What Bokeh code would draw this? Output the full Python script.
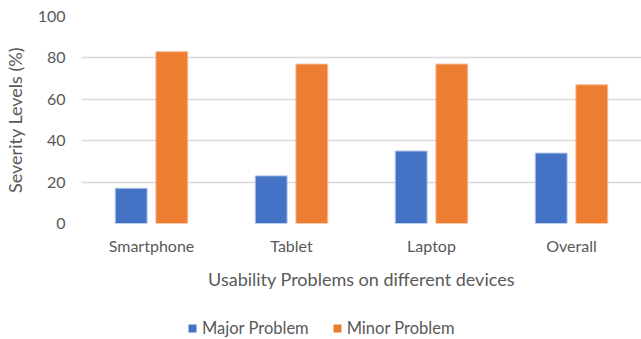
from bokeh.plotting import figure
from bokeh.layouts import column
from bokeh.models import ColumnDataSource, FactorRange, Range1d, Legend, LegendItem
from bokeh.transform import dodge
from bokeh.embed import file_html
from bokeh.resources import INLINE

categories = ["Smartphone", "Tablet", "Laptop", "Overall"]
major = [17, 23, 35, 34]
minor = [83, 77, 77, 67]
series_names = ["Major Problem", "Minor Problem"]
series_colors = ["#4472C4", "#ED7D31"]
y_ticks = [0, 20, 40, 60, 80, 100]

FONT = "Lato"
GRAY = "#595959"

src = ColumnDataSource(dict(cat=categories, major=major, minor=minor))

p = figure(width=641, height=300, x_range=FactorRange(*categories), y_range=Range1d(0, 100),
           output_backend="svg", toolbar_location=None,
           min_border_left=78, min_border_right=0, min_border_top=16, min_border_bottom=77)
p.outline_line_color = None
p.background_fill_color = "white"
p.border_fill_color = "white"

p.vbar(x=dodge("cat", -0.145, range=p.x_range), top="major", width=0.227, source=src,
       fill_color=series_colors[0], line_color="#a9bfe6", line_width=1)
p.vbar(x=dodge("cat", 0.145, range=p.x_range), top="minor", width=0.227, source=src,
       fill_color=series_colors[1], line_color="#f6b88f", line_width=1)

p.xgrid.grid_line_color = None
p.ygrid.grid_line_color = "#d9d9d9"
p.ygrid.grid_line_width = 1.5
p.yaxis.ticker = y_ticks

for ax in (p.xaxis[0], p.yaxis[0]):
    ax.axis_line_color = None
    ax.major_tick_line_color = None
    ax.minor_tick_line_color = None
    ax.major_tick_out = 0
    ax.major_tick_in = 0
    ax.major_label_text_font = FONT
    ax.major_label_text_font_size = "16px"
    ax.major_label_text_color = GRAY
    ax.axis_label_text_font = FONT
    ax.axis_label_text_font_size = "18px"
    ax.axis_label_text_color = GRAY
    ax.axis_label_text_font_style = "normal"

p.yaxis.major_label_standoff = 16
p.xaxis.major_label_standoff = 12
p.yaxis.axis_label = "Severity Levels (%)"
p.yaxis.axis_label_standoff = 9
p.xaxis.axis_label = "Usability Problems on different devices"
p.xaxis.axis_label_standoff = 10

# legend strip below the chart (its zero-width bars lie outside its visible y range)
leg = figure(width=641, height=39, x_range=FactorRange(*categories), y_range=Range1d(-2000, -1999),
             output_backend="svg", toolbar_location=None, x_axis_type=None, y_axis_type=None,
             min_border_left=0, min_border_right=0, min_border_top=0, min_border_bottom=0)
leg.outline_line_color = None
leg.xgrid.visible = False
leg.ygrid.visible = False
leg.border_fill_color = "white"
leg.background_fill_color = "white"
d1 = leg.vbar(x="cat", top="major", width=0, source=src,
              fill_color=series_colors[0], line_color=None)
d2 = leg.vbar(x="cat", top="minor", width=0, source=src,
              fill_color=series_colors[1], line_color=None)

legend = Legend(items=[LegendItem(label=series_names[0], renderers=[d1]),
                       LegendItem(label=series_names[1], renderers=[d2])],
                orientation="horizontal", location=(106, 1),
                label_text_font=FONT, label_text_font_size="16.5px", label_text_color=GRAY,
                glyph_width=10, glyph_height=10, spacing=23, label_standoff=5,
                padding=0, margin=0,
                border_line_color=None, background_fill_alpha=0)
leg.add_layout(legend, "center")

layout = column(p, leg, spacing=0)
open("out.html", "w").write(file_html(layout, INLINE))
